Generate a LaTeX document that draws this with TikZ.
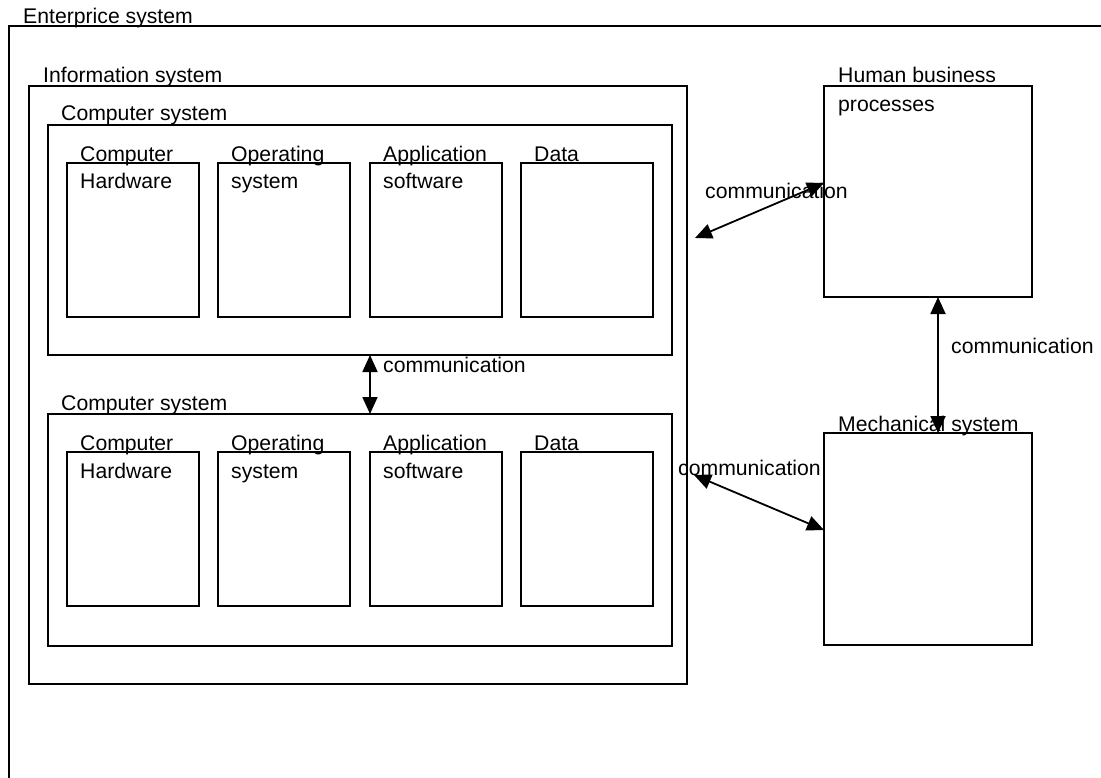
\documentclass[tikz,border=0pt]{standalone}
\usepackage{fontspec}
\setmainfont{Liberation Sans}
\usetikzlibrary{arrows.meta,positioning}

\begin{document}
\begin{tikzpicture}[
    x=1pt, y=-1pt,
    font=\fontsize{21.2}{28}\selectfont,
    box/.style={draw, line width=1.8pt, anchor=north west, inner sep=0pt, outer sep=0pt},
    caption/.style={anchor=base west, inner sep=0pt},
    part/.style 2 args={box, minimum width=132pt, minimum height=154pt,
        label={[caption, xshift=13pt, yshift=1.5pt]north west:#1},
        label={[caption, xshift=13pt, yshift=-26pt]north west:#2}},
    comm/.style={{Triangle[length=17pt,width=15pt]}-{Triangle[length=17pt,width=15pt]}, line width=1.8pt}
]
    \useasboundingbox (0,0) rectangle (1101,778);

    % Enterprise system (runs past the page edge)
    \node[box, minimum width=1200pt, minimum height=900pt,
        label={[caption, xshift=14pt, yshift=2pt]north west:Enterprice system}] (ent) at (9,26) {};

    % Information system with two computer systems
    \node[box, minimum width=658pt, minimum height=598pt,
        label={[caption, xshift=14pt, yshift=3pt]north west:Information system}] (info) at (29,86) {};
    \node[box, minimum width=624pt, minimum height=230pt,
        label={[caption, xshift=13pt, yshift=4pt]north west:Computer system}] (cs1) at (48,125) {};
    \node[box, minimum width=624pt, minimum height=232pt,
        label={[caption, xshift=13pt, yshift=4pt]north west:Computer system}] (cs2) at (48,414) {};

    % Computer system 1: parts
    \node[part={Computer}{Hardware}] (hw1) at (67,163) {};
    \node[part={Operating}{system}] (os1) at (218,163) {};
    \node[part={Application}{software}] (app1) at (370,163) {};
    \node[part={Data}{}] (data1) at (521,163) {};

    % Computer system 2: parts
    \node[part={Computer}{Hardware}] (hw2) at (67,452) {};
    \node[part={Operating}{system}] (os2) at (218,452) {};
    \node[part={Application}{software}] (app2) at (370,452) {};
    \node[part={Data}{}] (data2) at (521,452) {};

    % Human and mechanical systems
    \node[box, minimum width=208pt, minimum height=211pt,
        label={[caption, xshift=14pt, yshift=3pt]north west:Human business},
        label={[caption, xshift=14pt, yshift=-26pt]north west:processes}] (human) at (824,86) {};
    \node[box, minimum width=208pt, minimum height=212pt,
        label={[caption, xshift=14pt, yshift=2pt]north west:Mechanical system}] (mech) at (824,433) {};

    % Communication labels
    \node[caption] (lblhum) at (705,199) {communication};
    \node[caption] (lblcs) at (383,372) {communication};
    \node[caption] (lblhm) at (951,353) {communication};
    \node[caption] (lblmech) at (678,475) {communication};

    % Communication links
    \coordinate (infohum) at (695,238);
    \coordinate (infomech) at (694,475);
    \draw[comm] (infohum) -- ([yshift=8.5pt]human.west);
    \draw[comm] ([xshift=10pt]cs1.south) -- ([xshift=10pt]cs2.north);
    \draw[comm] ([xshift=10pt]human.south) -- ([xshift=10pt]mech.north);
    \draw[comm] (infomech) -- ([yshift=9pt]mech.west);

\end{tikzpicture}
\end{document}
